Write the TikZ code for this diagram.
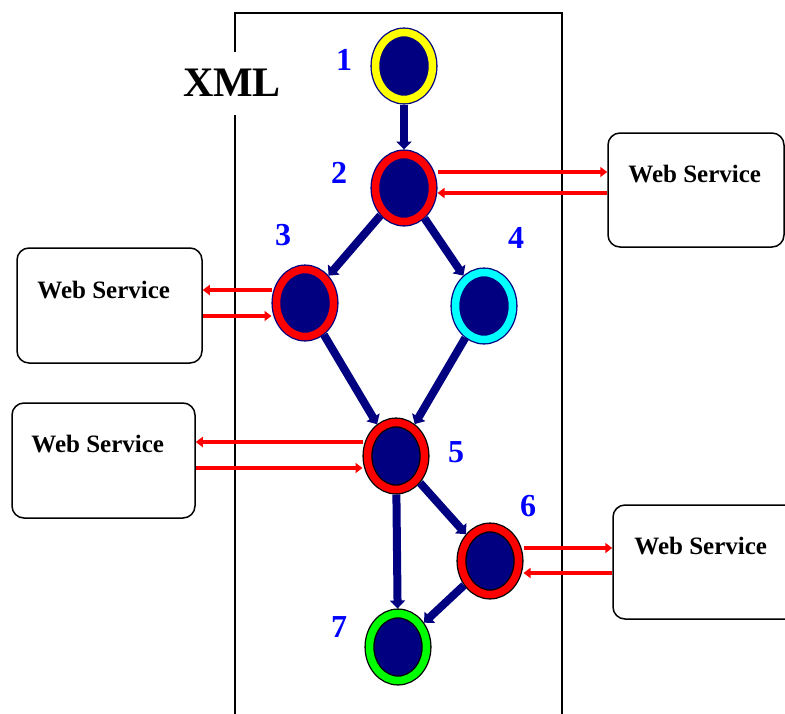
\documentclass[tikz,border=0pt]{standalone}
\usepackage{fontspec}
\setmainfont{Liberation Serif}
\usetikzlibrary{shapes.geometric,arrows.meta}
\definecolor{navy}{RGB}{0,0,128}
\definecolor{ringyellow}{RGB}{255,255,0}
\definecolor{ringred}{RGB}{255,0,0}
\definecolor{ringcyan}{RGB}{0,255,255}
\definecolor{ringgreen}{RGB}{0,255,0}
\definecolor{numblue}{RGB}{0,0,255}

\begin{document}
\begin{tikzpicture}[x=1pt,y=-1pt,
    task/.style={ellipse,fill=navy,draw=navy,double=#1,double distance=7.5pt,
      line width=1.3pt,minimum width=57pt,minimum height=67pt,inner sep=0pt,outer sep=5pt},
    flow/.style={draw=navy,line width=8pt,-{Triangle[length=8pt,width=15pt]}},
    call/.style={draw=ringred,line width=3.5pt,-{Triangle[length=7pt,width=10pt]}},
    wsbox/.style={draw,line width=1.5pt,rounded corners=12pt,inner sep=0pt},
    wstext/.style={anchor=west,inner sep=0pt,font=\fontsize{25}{25}\selectfont\bfseries},
    num/.style={text=numblue,inner sep=0pt,font=\fontsize{32}{32}\selectfont\bfseries}]
  \useasboundingbox (0,0) rectangle (785,713);
  \clip (0,0) rectangle (785,713);

  \draw[line width=1.5pt] (235,730) -- (235,13) -- (562,13) -- (562,730);
  \node[fill=white,minimum height=63pt,inner xsep=2pt,
    font=\fontsize{42}{42}\selectfont\bfseries] (xml) at (232,83) {XML};

  \node[task=ringyellow] (n1) at (404,66) {};
  \node[task=ringred] (n2) at (404,188) {};
  \node[task=ringred] (n3) at (305,303) {};
  \node[task=ringcyan] (n4) at (484,306) {};
  \node[task=ringred,draw=black] (n5) at (396,456) {};
  \node[task=ringred,draw=black] (n6) at (490,561) {};
  \node[task=ringgreen,draw=black] (n7) at (398,647) {};

  \node[num] at ([shift={(-60,-6)}]n1) {1};
  \node[num] at ([shift={(-65,-15)}]n2) {2};
  \node[num] at ([shift={(-22,-68)}]n3) {3};
  \node[num] at ([shift={(32,-68)}]n4) {4};
  \node[num] at ([shift={(60,-4)}]n5) {5};
  \node[num] at ([shift={(38,-55)}]n6) {6};
  \node[num] at ([shift={(-59,-20)}]n7) {7};

  \node[wsbox,minimum width=176pt,minimum height=114pt] (wsa) at (696,190) {};
  \node[wsbox,minimum width=185pt,minimum height=115pt] (wsb) at (109.5,305.5) {};
  \node[wsbox,minimum width=183pt,minimum height=115pt] (wsc) at (103.5,460.5) {};
  \node[wsbox,minimum width=240pt,minimum height=114pt] (wsd) at (733,562) {};
  \node[wstext] at ([shift={(21,42)}]wsa.north west) {Web Service};
  \node[wstext] at ([shift={(21,43)}]wsb.north west) {Web Service};
  \node[wstext] at ([shift={(20,42)}]wsc.north west) {Web Service};
  \node[wstext] at ([shift={(22,42)}]wsd.north west) {Web Service};

  \draw[flow] (n1) -- (n2);
  \draw[flow] (n2) -- (n3);
  \draw[flow] (n2) -- (n4);
  \draw[flow] (n3) -- (n5);
  \draw[flow] (n4) -- (n5);
  \draw[flow] (n5) -- (n6);
  \draw[flow] (n5) -- (n7);
  \draw[flow] (n6) -- (n7);

  \draw[call] ([yshift=16pt]n2.east) -- ([yshift=16pt]n2.east -| wsa.west);
  \draw[call] ([yshift=-5pt]n2.east -| wsa.west) -- ([yshift=-5pt]n2.east);
  \draw[call] ([yshift=13pt]n3.west) -- ([yshift=13pt]n3.west -| wsb.east);
  \draw[call] ([yshift=-13pt]n3.west -| wsb.east) -- ([yshift=-13pt]n3.west);
  \draw[call] ([yshift=14pt]n5.west) -- ([yshift=14pt]n5.west -| wsc.east);
  \draw[call] ([yshift=-12pt]n5.west -| wsc.east) -- ([yshift=-12pt]n5.west);
  \draw[call] ([yshift=13pt]n6.east) -- ([yshift=13pt]n6.east -| wsd.west);
  \draw[call] ([yshift=-12pt]n6.east -| wsd.west) -- ([yshift=-12pt]n6.east);
\end{tikzpicture}
\end{document}
